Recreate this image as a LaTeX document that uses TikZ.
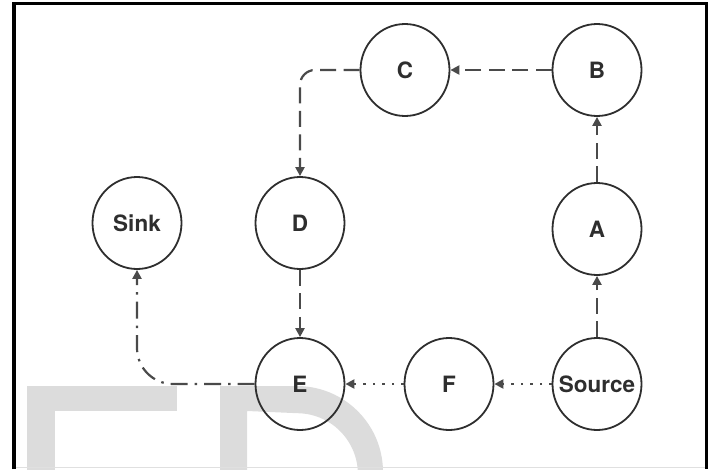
\documentclass[tikz,border=0pt]{standalone}
\usepackage{fontspec}
\setmainfont{TeX Gyre Heros}
\usetikzlibrary{arrows.meta,shapes.geometric}
\definecolor{ink}{HTML}{2E2E2E}
\definecolor{edge}{HTML}{4A4A4A}
\definecolor{wm}{HTML}{DCDCDC}
\newcommand{\vlabel}[1]{\makebox[0pt]{#1}}
\tikzset{
  vert/.style={ellipse,draw=ink,line width=1.8pt,minimum width=89pt,minimum height=92pt,inner sep=0pt,
    font=\fontsize{22.5}{24}\selectfont\bfseries,text=ink},
  conn/.style={draw=edge,line width=2.2pt,-{Triangle[length=9pt,width=9pt]}},
  dashline/.style={conn,dash pattern=on 16pt off 7.5pt},
  dotline/.style={conn,dash pattern=on 2.5pt off 7pt},
  dashdotline/.style={conn,dash pattern=on 17pt off 7pt on 2.5pt off 7pt}
}
\begin{document}
\begin{tikzpicture}[x=1pt,y=1pt]
\useasboundingbox (0,0) rectangle (712,-469);
% watermark
\begin{scope}
\clip (0,0) rectangle (712,-469);
\fill[wm] (27,-386) rectangle (55,-475);
\fill[wm] (27,-386) rectangle (177,-411);
\fill[wm] (220,-475) -- (220,-386) -- (297,-386) arc[start angle=90,end angle=-5,radius=86pt]
  -- ++(-25,0) arc[start angle=-5,end angle=90,radius=61pt] -- (247,-411) -- (247,-475) -- cycle;
\end{scope}
% frame
\draw[black,line width=3.5pt] (14,-469) -- (14,-3.5) -- (706.5,-3.5) -- (706.5,-469);
\draw[black!12,line width=1pt] (16,-467.5) -- (705,-467.5);
% nodes
\node[vert] (C) at (405,-70) {\vlabel{C}};
\node[vert] (B) at (597,-70) {\vlabel{B}};
\node[vert] (Sink) at (137,-223) {\vlabel{Sink}};
\node[vert] (D) at (300,-223) {\vlabel{D}};
\node[vert] (A) at (597,-229) {\vlabel{A}};
\node[vert] (E) at (300,-384) {\vlabel{E}};
\node[vert] (F) at (449,-384) {\vlabel{F}};
\node[vert] (Source) at (597,-384) {\vlabel{Source}};
% connectors
\draw[dashline] (Source.north) -- (A.south);
\draw[dashline] (A.north) -- (B.south);
\draw[dashline] (B.west) -- (C.east);
\draw[dashline,rounded corners=15pt] (C.west) -| (D.north);
\draw[dashline] (D.south) -- (E.north);
\draw[dotline] (Source.west) -- (F.east);
\draw[dotline] (F.west) -- (E.east);
\draw[dashdotline,rounded corners=36pt] (E.west) -| (Sink.south);
\end{tikzpicture}
\end{document}
